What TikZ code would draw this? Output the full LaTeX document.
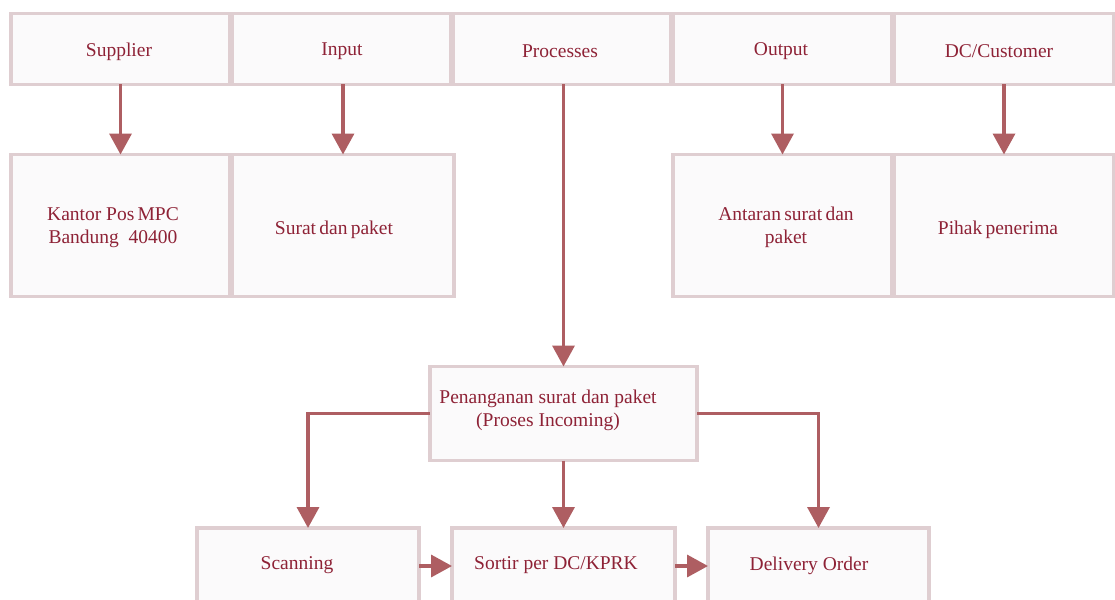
\documentclass[tikz,border=0pt]{standalone}
\usepackage{fontspec}
\setmainfont{Liberation Serif}
\usetikzlibrary{arrows.meta}
\definecolor{bordc}{HTML}{DFCED1}
\definecolor{fillc}{HTML}{FBFAFB}
\definecolor{arrc}{HTML}{AE5E62}
\definecolor{txtc}{HTML}{8E2236}
\tikzset{
  box/.style={draw=bordc, fill=fillc, line width=3.5pt, outer sep=0pt, inner sep=0pt},
  lbl/.style={text=txtc, font=\fontsize{19.5}{23}\selectfont, align=center, inner sep=0pt, yshift=-3.5pt},
  conn/.style={draw=arrc, line width=3.5pt, -{Triangle[width=22pt,length=21pt]}},
}
\begin{document}
\begin{tikzpicture}[x=1pt,y=-1pt]
\clip (0,0) rectangle (1115,599);
\fill[white] (0,0) rectangle (1115,599);
% top row
\node[box, minimum width=219pt, minimum height=71pt] (sup) at (120.5,49) {};
\node[box, minimum width=219pt, minimum height=71pt] (inp) at (341.5,49) {};
\node[box, minimum width=218pt, minimum height=71pt] (pro) at (562,49) {};
\node[box, minimum width=219pt, minimum height=71pt] (out) at (782.5,49) {};
\node[box, minimum width=220pt, minimum height=71pt] (dcc) at (1004,49) {};
\node[lbl] (supt) at (119,48) {Supplier};
\node[lbl] (inpt) at (342,48) {Input};
\node[lbl] (prot) at (560,48) {Processes};
\node[lbl] (outt) at (781,48) {Output};
\node[lbl] (dcct) at (999,48) {DC/Customer};
% second row
\node[box, minimum width=219pt, minimum height=142pt] (kan) at (120.5,225.5) {};
\node[box, minimum width=222pt, minimum height=142pt] (sur) at (343,225.5) {};
\node[box, minimum width=219pt, minimum height=142pt] (ant) at (782.5,225.5) {};
\node[box, minimum width=220pt, minimum height=142pt] (pih) at (1004,225.5) {};
\node[lbl] (kant) at (113,224) {Kantor Pos\,MPC\\Bandung\ \ 40400};
\node[lbl] (surt) at (334,226) {Surat\,dan\,paket};
\node[lbl] (antt) at (786,224) {Antaran\,surat\,dan\\paket};
\node[lbl] (piht) at (998,226) {Pihak\,penerima};
% middle
\node[box, minimum width=267pt, minimum height=94pt] (mid) at (563.5,413.5) {};
\node[lbl] (midt) at (548,407) {Penanganan surat dan paket\\(Proses Incoming)};
% bottom row
\node[box, minimum width=222pt, minimum height=76pt] (scan) at (308,566) {};
\node[box, minimum width=223pt, minimum height=76pt] (sort) at (563.5,566) {};
\node[box, minimum width=221pt, minimum height=76pt] (deli) at (818.5,566) {};
\node[lbl] (scant) at (297,562) {Scanning};
\node[lbl] (sortt) at (556,562) {Sortir per DC/KPRK};
\node[lbl] (delit) at (809,562) {Delivery Order};
% connectors
\draw[conn] (sup.south -| kan.north) -- (kan.north);
\draw[conn] (inp.south -| sur.north) -- (sur.north);
\draw[conn] (pro.south -| mid.north) -- (mid.north);
\draw[conn] (out.south -| ant.north) -- (ant.north);
\draw[conn] (dcc.south -| pih.north) -- (pih.north);
\draw[conn] (mid.west) -| (scan.north);
\draw[conn] (mid.south) -- (sort.north);
\draw[conn] (mid.east) -| (deli.north);
\draw[conn] (scan.east) -- (sort.west);
\draw[conn] (sort.east) -- (deli.west);
\end{tikzpicture}
\end{document}
